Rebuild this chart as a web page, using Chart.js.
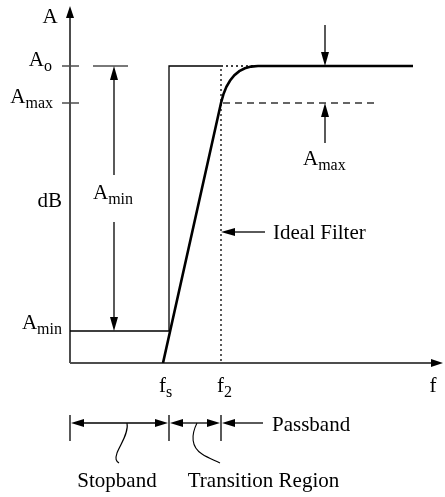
<!DOCTYPE html>
<html>
<head>
<meta charset="utf-8">
<script src="https://cdn.jsdelivr.net/npm/chart.js@4"></script>
<style>
html,body{margin:0;padding:0;background:#fff;}
#wrap{width:445px;height:497px;position:relative;}
</style>
</head>
<body>
<div id="wrap"><canvas id="c" width="445" height="497"></canvas></div>
<script>
// ---- data (units: offset along axes) ----
const levelAmin = 32;     // stopband attenuation level
const levelAo = 297;      // passband gain level
const levelAmax = 260;    // ripple limit level
const freqFs = 93;        // f_s
const freqIdeal = 99;     // ideal filter edge
const freqF2 = 151;       // f_2

const responseX = [93, 151, 153.4, 156.4, 160.1, 164.4, 169.3, 174.9, 181.1, 188, 343];
const responseY = [0, 260, 268.7, 276.2, 282.5, 287.8, 291.8, 294.7, 296.4, 297, 297];

const idealX = [0, 99, 99, 151];
const idealY = [32, 32, 297, 297];

const dottedX = [188, 151, 151];
const dottedY = [297, 297, 0];

const amaxDashX = [153, 306];
const amaxDashY = [260, 260];

const xTickLabels = [{t:'f', s:'s', v:93}, {t:'f', s:'2', v:151}, {t:'f', s:'', v:363}];

function pts(xs, ys){ return xs.map((x,i)=>({x:x, y:ys[i]})); }

const FONT = '"Liberation Serif", "Times New Roman", serif';
const MAIN = 21, SUB = 16;

function arrowHead(ctx, tx, ty, dir, len, half){
  ctx.beginPath();
  ctx.moveTo(tx, ty);
  if(dir==='up'){ ctx.lineTo(tx-half, ty+len); ctx.lineTo(tx+half, ty+len); }
  if(dir==='down'){ ctx.lineTo(tx-half, ty-len); ctx.lineTo(tx+half, ty-len); }
  if(dir==='left'){ ctx.lineTo(tx+len, ty-half); ctx.lineTo(tx+len, ty+half); }
  if(dir==='right'){ ctx.lineTo(tx-len, ty-half); ctx.lineTo(tx-len, ty+half); }
  ctx.closePath();
  ctx.fill();
}
function line(ctx, x1, y1, x2, y2){
  ctx.beginPath(); ctx.moveTo(x1,y1); ctx.lineTo(x2,y2); ctx.stroke();
}
function subText(ctx, base, sub, x, y, align){
  ctx.font = MAIN+'px '+FONT;
  const wb = ctx.measureText(base).width;
  ctx.font = SUB+'px '+FONT;
  const ws = sub ? ctx.measureText(sub).width : 0;
  const w = wb + ws;
  let x0 = x;
  if(align==='right') x0 = x - w;
  if(align==='center') x0 = x - w/2;
  ctx.textAlign = 'left';
  ctx.textBaseline = 'alphabetic';
  ctx.font = MAIN+'px '+FONT;
  ctx.fillText(base, x0, y);
  if(sub){
    ctx.font = SUB+'px '+FONT;
    ctx.fillText(sub, x0 + wb, y + 5);
  }
}

const annot = {
  id: 'annot',
  beforeDatasetsDraw(chart){
    const ctx = chart.ctx, xs = chart.scales.x, ys = chart.scales.y;
    const X = v => xs.getPixelForValue(v), Y = v => ys.getPixelForValue(v);
    ctx.save();
    ctx.strokeStyle = '#4d4d4d'; ctx.lineWidth = 2;
    line(ctx, X(0), Y(0), X(0), Y(346));
    line(ctx, X(0), Y(0), X(362), Y(0));
    ctx.fillStyle = '#000';
    arrowHead(ctx, X(0), Y(357), 'up', 12, 4);
    arrowHead(ctx, X(373), Y(0), 'right', 12, 4);
    ctx.lineWidth = 1.5;
    line(ctx, X(-8), Y(levelAo), X(9), Y(levelAo));
    line(ctx, X(-8), Y(levelAmax), X(9), Y(levelAmax));
    line(ctx, X(23), Y(levelAo), X(58), Y(levelAo));
    ctx.restore();
  },
  afterDatasetsDraw(chart){
    const ctx = chart.ctx, xs = chart.scales.x, ys = chart.scales.y;
    const X = v => xs.getPixelForValue(v), Y = v => ys.getPixelForValue(v);
    ctx.save();
    ctx.strokeStyle = '#000'; ctx.fillStyle = '#000'; ctx.lineWidth = 1.3;
    // A_min dimension arrow
    line(ctx, X(44), Y(levelAo-12), X(44), Y(188));
    arrowHead(ctx, X(44), Y(levelAo), 'up', 14, 4);
    line(ctx, X(44), Y(141), X(44), Y(levelAmin+12));
    arrowHead(ctx, X(44), Y(levelAmin), 'down', 14, 4);
    // A_max indicator arrows
    line(ctx, X(255), Y(338), X(255), Y(levelAo+12));
    arrowHead(ctx, X(255), Y(levelAo), 'down', 14, 4);
    line(ctx, X(255), Y(220), X(255), Y(levelAmax-12));
    arrowHead(ctx, X(255), Y(levelAmax), 'up', 14, 4);
    // Ideal filter pointer
    line(ctx, X(195), Y(131), X(freqF2+12), Y(131));
    arrowHead(ctx, X(freqF2), Y(131), 'left', 14, 4);
    // band markers
    [0, freqIdeal, freqF2].forEach(v => line(ctx, X(v), Y(-52), X(v), Y(-78)));
    const by = Y(-60);
    line(ctx, X(0)+12, by, X(freqIdeal)-12, by);
    arrowHead(ctx, X(0)+1, by, 'left', 13, 4);
    arrowHead(ctx, X(freqIdeal)-1, by, 'right', 13, 4);
    line(ctx, X(freqIdeal)+12, by, X(freqF2)-12, by);
    arrowHead(ctx, X(freqIdeal)+1, by, 'left', 13, 4);
    arrowHead(ctx, X(freqF2)-1, by, 'right', 13, 4);
    line(ctx, X(freqF2)+12, by, X(193), by);
    arrowHead(ctx, X(freqF2)+1, by, 'left', 13, 4);
    // squiggles
    ctx.lineWidth = 1.1;
    ctx.beginPath();
    ctx.moveTo(X(57), by);
    ctx.bezierCurveTo(X(59), by+10, X(50), by+22, X(47), by+30);
    ctx.bezierCurveTo(X(45), by+36, X(46), by+38, X(49), by+40);
    ctx.stroke();
    ctx.beginPath();
    ctx.moveTo(X(127), by);
    ctx.bezierCurveTo(X(121), by+12, X(121), by+24, X(132), by+31);
    ctx.bezierCurveTo(X(138), by+35, X(144), by+37, X(150), by+40);
    ctx.stroke();
    // texts
    ctx.fillStyle = '#000';
    subText(ctx, 'A', '', X(-20), Y(340), 'center');
    subText(ctx, 'A', 'o', X(-18), Y(levelAo), 'right');
    subText(ctx, 'A', 'max', X(-17), Y(levelAmax), 'right');
    subText(ctx, 'dB', '', X(-8), Y(156), 'right');
    subText(ctx, 'A', 'min', X(-8), Y(34), 'right');
    subText(ctx, 'A', 'min', X(43), Y(164), 'center');
    subText(ctx, 'A', 'max', X(233), Y(198), 'left');
    subText(ctx, 'Ideal Filter', '', X(203), Y(124), 'left');
    subText(ctx, 'Passband', '', X(202), Y(-68), 'left');
    subText(ctx, 'Stopband', '', X(47), Y(-124), 'center');
    subText(ctx, 'Transition Region', '', X(193.5), Y(-124), 'center');
    xTickLabels.forEach(l => subText(ctx, l.t, l.s, X(l.v)-(l.s?4:0), Y(-29), l.s ? 'left' : 'center'));
    ctx.restore();
  }
};

new Chart(document.getElementById('c'), {
  type: 'scatter',
  data: {
    datasets: [
      { data: pts(idealX, idealY), showLine: true, borderColor: '#000', borderWidth: 1.3, pointRadius: 0, tension: 0 },
      { data: pts(dottedX, dottedY), showLine: true, borderColor: '#000', borderWidth: 1.3, borderDash: [2, 3], pointRadius: 0, tension: 0 },
      { data: pts(amaxDashX, amaxDashY), showLine: true, borderColor: '#333', borderWidth: 1.5, borderDash: [7, 5], pointRadius: 0, tension: 0 },
      { data: pts(responseX, responseY), showLine: true, borderColor: '#000', borderWidth: 2.6, pointRadius: 0, tension: 0 }
    ]
  },
  options: {
    responsive: false,
    animation: false,
    layout: { padding: { left: 70, right: 2, top: 6, bottom: 134 } },
    plugins: { legend: { display: false }, tooltip: { enabled: false } },
    scales: {
      x: { type: 'linear', min: 0, max: 373, display: false },
      y: { type: 'linear', min: 0, max: 357, display: false }
    }
  },
  plugins: [annot]
});
</script>
</body>
</html>
